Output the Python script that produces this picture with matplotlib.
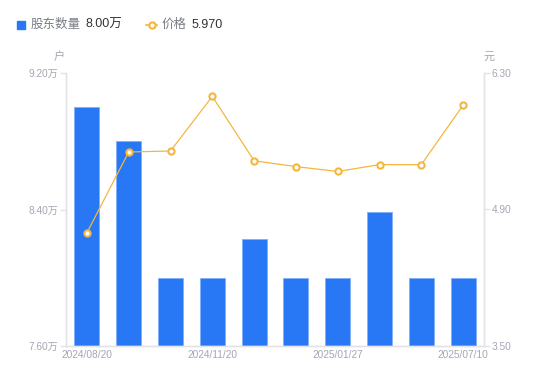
import matplotlib.pyplot as plt
import numpy as np

plt.rcParams['font.family'] = ['Liberation Sans', 'Noto Sans CJK SC', 'DejaVu Sans']

# data
dates = ['2024/08/20', '2024/09/30', '2024/10/31', '2024/11/20', '2024/12/10',
         '2024/12/31', '2025/01/27', '2025/03/31', '2025/06/10', '2025/07/10']
holders = [9.00, 8.80, 8.00, 8.00, 8.23, 8.00, 8.00, 8.385, 8.00, 8.00]  # 万户
price = [4.66, 5.49, 5.50, 6.06, 5.40, 5.34, 5.29, 5.36, 5.36, 5.97]
left_ticks = [7.60, 8.40, 9.20]
right_ticks = [3.50, 4.90, 6.30]

bar_c = '#2878f5'
line_c = '#f5b640'
grey = '#a3a6b4'
axis_c = '#e3e4e8'

fig = plt.figure(figsize=(5.5, 3.81), dpi=100)
ax = fig.add_axes([66/550, 1-346/381, 418/550, 273/381])
ax2 = ax.twinx()

x = np.arange(len(dates))
ax.bar(x, holders, width=0.6, color=bar_c, edgecolor='#7fb0fa', linewidth=0.6, zorder=2)
ax.set_xlim(-0.5, len(dates) - 0.5)
ax.set_ylim(left_ticks[0], left_ticks[-1])
ax.set_yticks(left_ticks)
ax.set_yticklabels([f'{v:.2f}万' for v in left_ticks])

ax2.plot(x, price, color=line_c, linewidth=0.9, marker='o', markersize=4.5,
         markerfacecolor='white', markeredgecolor=line_c, markeredgewidth=1.5, zorder=3)
ax2.set_ylim(right_ticks[0], right_ticks[-1])
ax2.set_yticks(right_ticks)
ax2.set_yticklabels([f'{v:.2f}' for v in right_ticks])

for a in (ax, ax2):
    for s in a.spines.values():
        s.set_color(axis_c)
        s.set_linewidth(1)
    a.spines['top'].set_visible(False)
    a.tick_params(axis='y', colors=axis_c, labelcolor=grey, labelsize=7.3, length=4, width=1, pad=1.5)

# every third date shown
ax.set_xticks(x[::3])
ax.set_xticklabels(dates[::3])
ax.tick_params(axis='x', length=0, labelcolor=grey, labelsize=7.3, pad=3)

# axis units
fig.text(59/550, 1-57/381, '户', ha='center', va='center', fontsize=8, color=grey)
fig.text(489/550, 1-57/381, '元', ha='center', va='center', fontsize=8, color=grey)

# legend
fig.patches.append(plt.Rectangle((17/550, 1-28.5/381), 8/550, 8/381, transform=fig.transFigure,
                                 color=bar_c, figure=fig))
fig.text(31/550, 1-25/381, '股东数量', ha='left', va='center', fontsize=9, color='#7a7d88')
fig.text(85/550, 1-25/381, f'{holders[-1]:.2f}万', ha='left', va='center', fontsize=9, color='#333333')
fig.add_artist(plt.Line2D([146/550, 157/550], [1-24.5/381, 1-24.5/381], color=line_c, linewidth=1.2,
                          transform=fig.transFigure))
fig.add_artist(plt.Line2D([151.5/550], [1-24.5/381], marker='o', markersize=4.5, markerfacecolor='white',
                          markeredgecolor=line_c, markeredgewidth=1.5, transform=fig.transFigure))
fig.text(162/550, 1-25/381, '价格', ha='left', va='center', fontsize=9, color='#7a7d88')
fig.text(192/550, 1-25/381, f'{price[-1]:.3f}', ha='left', va='center', fontsize=9, color='#333333')

fig.savefig('out.png', dpi=100)
